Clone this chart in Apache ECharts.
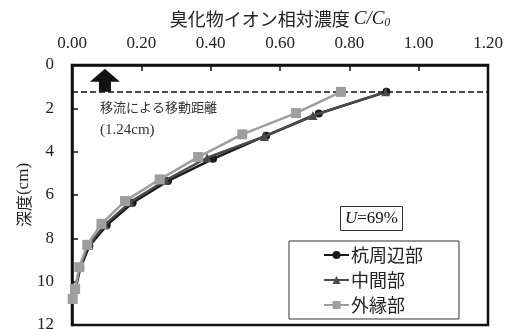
<!DOCTYPE html>
<html>
<head>
<meta charset="utf-8">
<script src="https://cdn.jsdelivr.net/npm/echarts@6/dist/echarts.min.js"></script>
<style>
  html, body { margin: 0; padding: 0; background: #fff; }
  #chart { width: 509px; height: 329px; }
</style>
</head>
<body>
<div id="chart"></div>
<script>
// Relative bromide concentration C/C0 against depth, U = 69%
const seriesNames = ['杭周辺部', '中間部', '外縁部'];

const pileConc  = [0.907, 0.712, 0.560, 0.407, 0.277, 0.175, 0.100, 0.050, 0.024, 0.010, 0.003];
const pileDepth = [1.24, 2.24, 3.26, 4.33, 5.35, 6.36, 7.40, 8.35, 9.37, 10.35, 10.82];

const midConc  = [0.905, 0.695, 0.555, 0.390, 0.270, 0.168, 0.095, 0.047, 0.022, 0.009, 0.002];
const midDepth = [1.24, 2.33, 3.30, 4.28, 5.32, 6.33, 7.37, 8.33, 9.35, 10.34, 10.81];

const outerConc  = [0.776, 0.646, 0.491, 0.364, 0.253, 0.153, 0.085, 0.044, 0.021, 0.009, 0.002];
const outerDepth = [1.24, 2.22, 3.20, 4.25, 5.28, 6.28, 7.33, 8.30, 9.33, 10.33, 10.80];

const advectionDepth = 1.24;   // displacement by advection (cm)
const arrowConc = 0.095;

const xTicks = { min: 0, max: 1.2, step: 0.2 };
const yTicks = { min: 0, max: 12, step: 2 };

const pairs = (xs, ys) => xs.map((x, i) => [x, ys[i]]);

const serif = 'Liberation Serif';
const cjk = 'Noto Sans CJK JP';

const chart = echarts.init(document.getElementById('chart'));

chart.setOption({
  animation: false,
  backgroundColor: '#fff',
  grid: {
    left: 72, right: 21, top: 65, bottom: 4,
    containLabel: false,
    outerBoundsMode: 'none',
    show: true, borderColor: '#111', borderWidth: 2.5, backgroundColor: 'transparent'
  },
  title: {
    text: '{i|U}=69%',
    left: 340, top: 206,
    borderColor: '#333', borderWidth: 1,
    padding: [4, 5, 4, 5],
    textStyle: {
      rich: {
        i: { fontFamily: serif, fontStyle: 'italic', fontSize: 17, color: '#111' }
      },
      fontFamily: serif, fontSize: 17, color: '#111', fontWeight: 'normal'
    }
  },
  legend: {
    orient: 'vertical',
    left: 289, top: 241,
    padding: [5, 36, 5, 34],
    itemGap: 7,
    itemWidth: 25, itemHeight: 10,
    borderColor: '#333', borderWidth: 1,
    backgroundColor: '#fff',
    textStyle: { fontFamily: cjk, fontSize: 18, color: '#222', padding: [0, 0, 0, -3] },
    data: seriesNames
  },
  xAxis: {
    type: 'value',
    position: 'top',
    min: xTicks.min, max: xTicks.max, interval: xTicks.step,
    name: '臭化物イオン相対濃度 {i|C/C}{s|0}',
    nameLocation: 'middle',
    nameGap: 36,
    nameTextStyle: {
      fontFamily: cjk, fontSize: 18, color: '#222',
      rich: {
        i: { fontFamily: serif, fontStyle: 'italic', fontSize: 19, color: '#222' },
        s: { fontFamily: serif, fontStyle: 'italic', fontSize: 12, color: '#222', verticalAlign: 'bottom', padding: [8, 0, 0, 0] }
      }
    },
    axisLine: { show: true, lineStyle: { color: '#111', width: 2.5 } },
    axisTick: { show: true, inside: true, length: 6, lineStyle: { color: '#111', width: 1.5 } },
    axisLabel: {
      margin: 13,
      fontFamily: serif, fontSize: 17, color: '#222',
      formatter: v => v.toFixed(2)
    },
    splitLine: { show: false }
  },
  yAxis: {
    type: 'value',
    inverse: true,
    min: yTicks.min, max: yTicks.max, interval: yTicks.step,
    name: '深度{s|(cm)}',
    nameLocation: 'middle',
    nameGap: 40,
    nameMoveOverlap: false,
    nameRotate: 90,
    nameTextStyle: {
      fontFamily: cjk, fontSize: 16, color: '#222',
      rich: { s: { fontFamily: serif, fontSize: 17, color: '#222' } }
    },
    axisLine: { show: true, lineStyle: { color: '#111', width: 2.5 } },
    axisTick: { show: true, inside: true, length: 6, lineStyle: { color: '#111', width: 1.5 } },
    axisLabel: { margin: 18, fontFamily: serif, fontSize: 17, color: '#222' },
    splitLine: { show: false }
  },
  series: [
    {
      name: seriesNames[0],
      type: 'line',
      data: pairs(pileConc, pileDepth),
      symbol: 'circle', symbolSize: 8,
      lineStyle: { color: '#1a1a1a', width: 2.5 },
      itemStyle: { color: '#1a1a1a' },
      z: 3,
      markLine: {
        silent: true,
        symbol: 'none',
        label: { show: false },
        lineStyle: { color: '#111', type: [6, 3], width: 1.6 },
        data: [{ yAxis: advectionDepth }]
      },
      markPoint: {
        silent: true,
        symbol: 'path://M0,13 L15,0 L30,13 L21,13 L21,23 L9,23 L9,13 Z',
        symbolSize: [30, 23],
        symbolOffset: [0, -11.5],
        itemStyle: { color: '#111' },
        label: { show: false },
        data: [{ coord: [arrowConc, advectionDepth] }]
      }
    },
    {
      name: seriesNames[1],
      type: 'line',
      data: pairs(midConc, midDepth),
      symbol: 'triangle', symbolSize: 9,
      lineStyle: { color: '#4a4a4a', width: 2.5 },
      itemStyle: { color: '#4a4a4a' },
      z: 4
    },
    {
      name: seriesNames[2],
      type: 'line',
      data: pairs(outerConc, outerDepth),
      symbol: 'rect', symbolSize: 10,
      lineStyle: { color: '#9e9e9e', width: 2.5 },
      itemStyle: { color: '#9e9e9e' },
      z: 5
    }
  ],
  graphic: [
    {
      type: 'text',
      left: 100, top: 101,
      style: { text: '移流による移動距離', fontFamily: cjk, fontSize: 13, fill: '#333' }
    },
    {
      type: 'text',
      left: 100, top: 123,
      style: { text: '(1.24cm)', fontFamily: serif, fontSize: 15, fill: '#333' }
    }
  ]
});
</script>
</body>
</html>
